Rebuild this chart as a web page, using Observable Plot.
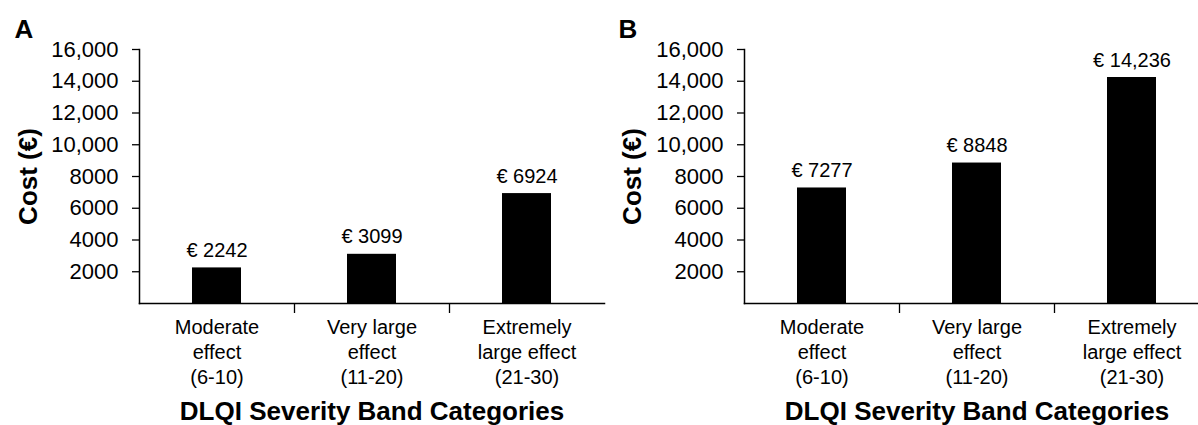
<!DOCTYPE html>
<html><head><meta charset="utf-8">
<script src="https://cdn.jsdelivr.net/npm/d3@7"></script>
<script src="https://cdn.jsdelivr.net/npm/@observablehq/plot@0.6"></script>
<style>
html,body{margin:0;padding:0;background:#fff;overflow:hidden;}
#wrap{position:relative;width:1198px;height:425px;overflow:hidden;}
#wrap svg{position:absolute;top:0;}
</style></head><body><div id="wrap"></div>
<script>
const categories = ["Moderate effect (6-10)", "Very large effect (11-20)", "Extremely large effect (21-30)"];
const categoryLabels = ["Moderate\neffect\n(6-10)", "Very large\neffect\n(11-20)", "Extremely\nlarge effect\n(21-30)"];
const costsA = [2242, 3099, 6924];
const costsB = [7277, 8848, 14236];
const yTicks = [2000, 4000, 6000, 8000, 10000, 12000, 14000, 16000];
const panelLetters = ["A", "B"];
const yLabel = "Cost (€)";
const xLabel = "DLQI Severity Band Categories";

const fmt = v => v >= 10000 ? d3.format(",")(v) : String(v);
const FONT = "'Liberation Sans', Arial, sans-serif";

function panel(letter, values, width, marginLeft, left) {
  const data = categories.map((c, i) => ({category: c, cost: values[i]}));
  const marginTop = 49, marginBottom = 122, height = 425;
  const step = (width - marginLeft) / categories.length;
  const frameH = height - marginTop - marginBottom;
  const svg = Plot.plot({
    width, height, marginTop, marginBottom, marginLeft, marginRight: 0,
    style: {fontFamily: FONT, color: "#000", background: "transparent", overflow: "visible"},
    x: {domain: categories, padding: 0, axis: null},
    y: {domain: [0, 16000], axis: null},
    marks: [
      Plot.barY(data, {x: "category", y: "cost", fill: "#000", insetLeft: 53, insetRight: 53}),
      Plot.text(data, {x: "category", y: "cost", text: d => "€ " + fmt(d.cost), dy: -11, lineAnchor: "bottom", fontSize: 20, fill: "#000"}),
      Plot.axisY({ticks: yTicks, tickFormat: fmt, tickSize: 7, tickPadding: 14, fontSize: 22, label: null, stroke: "#000", strokeWidth: 1.3}),
      Plot.axisX({tickSize: 0, tickPadding: 12, fontSize: 20, lineHeight: 1.27, tickFormat: d => categoryLabels[categories.indexOf(d)], label: null}),
      Plot.frame({anchor: "left", stroke: "#000", strokeWidth: 1.5}),
      Plot.frame({anchor: "bottom", stroke: "#000", strokeWidth: 1.5}),
      Plot.tickX(categories.slice(1), {x: d => d, dx: -step / 2, insetTop: frameH, insetBottom: -10, stroke: "#000", strokeWidth: 1.3}),
      Plot.text([yLabel], {text: d => d, frameAnchor: "left", textAnchor: "middle", lineAnchor: "middle", rotate: -90, dx: -(marginLeft - 28), fontWeight: "bold", fontSize: 26, fill: "#000"}),
      Plot.text([xLabel], {text: d => d, frameAnchor: "bottom", lineAnchor: "middle", dy: 108, fontWeight: "bold", fontSize: 26, fill: "#000"}),
      Plot.text([letter], {text: d => d, frameAnchor: "top-left", textAnchor: "middle", lineAnchor: "middle", dx: -(marginLeft - 23.5), dy: -20, fontWeight: "bold", fontSize: 26, fill: "#000"})
    ]
  });
  svg.style.left = left + "px";
  return svg;
}

const wrap = document.getElementById("wrap");
wrap.appendChild(panel(panelLetters[0], costsA, 604, 139, 0));
wrap.appendChild(panel(panelLetters[1], costsB, 605, 140, 604));
</script>
</body></html>
